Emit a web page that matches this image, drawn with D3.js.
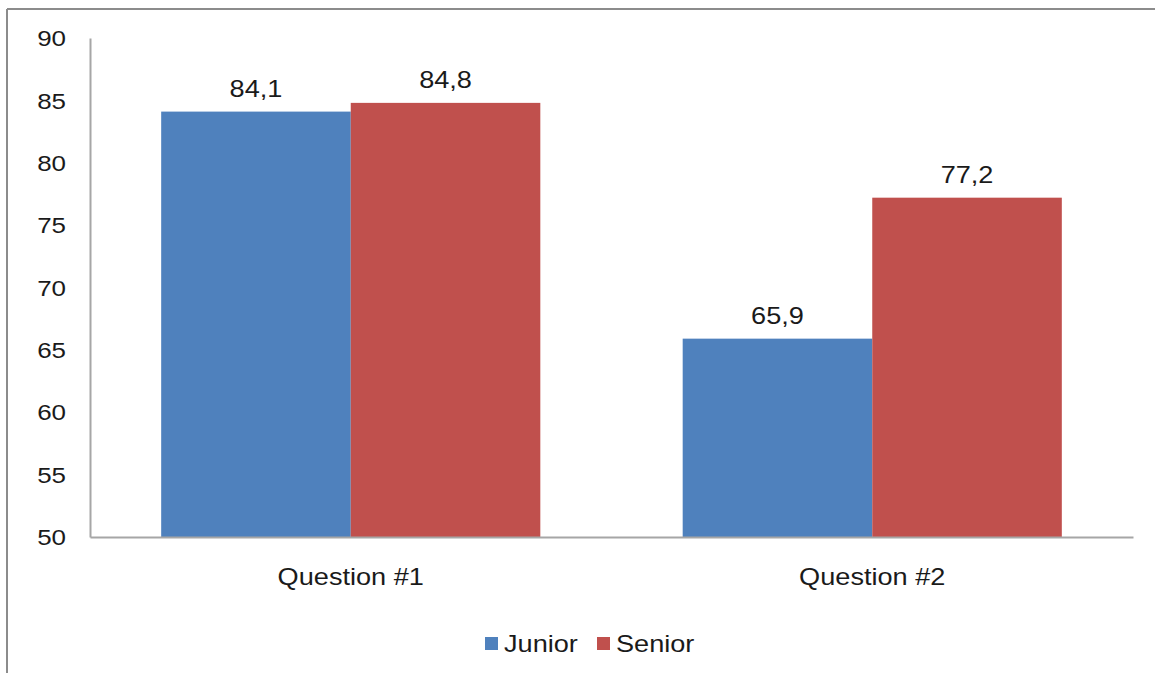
<!DOCTYPE html>
<html>
<head>
<meta charset="utf-8">
<script src="https://cdn.jsdelivr.net/npm/d3@7"></script>
<style>
  html, body { margin: 0; padding: 0; background: #fff; }
  svg { display: block; }
  text { font-family: "Liberation Sans", Arial, sans-serif; fill: #1a1a1a; }
</style>
</head>
<body>
<svg id="chart" width="1155" height="673"></svg>
<script>
// Chart data
const categories = ["Question #1", "Question #2"];
const seriesNames = ["Junior", "Senior"];
const juniorValues = [84.1, 65.9];
const seniorValues = [84.8, 77.2];
const yTicks = [50, 55, 60, 65, 70, 75, 80, 85, 90];
const seriesColors = ["#4F81BD", "#C0504D"];

const svg = d3.select("#chart");
const W = 1155, H = 673;
const FONT = "Liberation Sans, Arial, sans-serif";
const SX = 1.18; // horizontal widening of all chart text

// Place a text at (x, y) widened horizontally around its anchor
function wideText(sel, x, y) {
  return sel.attr("x", 0).attr("y", 0)
    .attr("transform", `translate(${x},${y}) scale(${SX},1)`);
}

// Outer frame (top and left edges of the chart area)
const frame = svg.append("g");
frame.append("line").attr("x1", 7).attr("x2", W).attr("y1", 9).attr("y2", 9)
  .attr("stroke", "#8c8c8c").attr("stroke-width", 2);
frame.append("line").attr("x1", 7).attr("x2", 7).attr("y1", 9).attr("y2", H)
  .attr("stroke", "#8c8c8c").attr("stroke-width", 2);

const plot = { left: 90, right: 1133, top: 38, bottom: 537 };

const x0 = d3.scaleBand().domain(categories)
  .range([plot.left, plot.right]).paddingInner(0.273).paddingOuter(0.1365);
const x1 = d3.scaleBand().domain(seriesNames).range([0, x0.bandwidth()]).padding(0);
const y = d3.scaleLinear().domain([50, 90]).range([plot.bottom, plot.top]);
const color = d3.scaleOrdinal().domain(seriesNames).range(seriesColors);

const rows = categories.map((c, i) => ({
  category: c,
  values: [
    { series: "Junior", value: juniorValues[i] },
    { series: "Senior", value: seniorValues[i] }
  ]
}));

// Y axis
const yAxis = svg.append("g").attr("transform", `translate(${plot.left},0)`)
  .call(d3.axisLeft(y).tickValues(yTicks).tickSize(0).tickFormat(d3.format("d")));
yAxis.select(".domain").attr("stroke", "#a6a6a6").attr("stroke-width", 2);
yAxis.selectAll(".tick text")
  .attr("font-size", 22).attr("font-family", FONT).style("fill", "#1a1a1a")
  .attr("dy", "0.35em")
  .each(function () { wideText(d3.select(this), -24, 0); });

// Bars
const groups = svg.append("g").selectAll("g").data(rows).join("g")
  .attr("transform", d => `translate(${x0(d.category)},0)`);

groups.selectAll("rect").data(d => d.values).join("rect")
  .attr("x", d => x1(d.series))
  .attr("y", d => y(d.value))
  .attr("width", x1.bandwidth())
  .attr("height", d => y(50) - y(d.value))
  .attr("fill", d => color(d.series));

// Value labels (comma decimal separator)
groups.selectAll("text.val").data(d => d.values).join("text")
  .attr("class", "val")
  .attr("text-anchor", "middle")
  .attr("font-size", 23)
  .text(d => d3.format(".1f")(d.value).replace(".", ","))
  .each(function (d) {
    wideText(d3.select(this), x1(d.series) + x1.bandwidth() / 2, y(d.value) - 15);
  });

// X axis
const xAxis = svg.append("g").attr("transform", `translate(0,${plot.bottom})`)
  .call(d3.axisBottom(x0).tickSize(0));
xAxis.select(".domain").attr("stroke", "#a6a6a6").attr("stroke-width", 2);
xAxis.selectAll(".tick text")
  .attr("font-size", 23).attr("font-family", FONT).style("fill", "#1a1a1a")
  .attr("dy", null)
  .each(function () { wideText(d3.select(this), 0, 48); });

// Legend
const legend = svg.append("g");
const legendItems = [
  { name: "Junior", x: 485 },
  { name: "Senior", x: 597 }
];
legendItems.forEach(item => {
  legend.append("rect").attr("x", item.x).attr("y", 637)
    .attr("width", 13).attr("height", 13).attr("fill", color(item.name));
  wideText(legend.append("text").attr("font-size", 23).text(item.name), item.x + 19, 652);
});
</script>
</body>
</html>
